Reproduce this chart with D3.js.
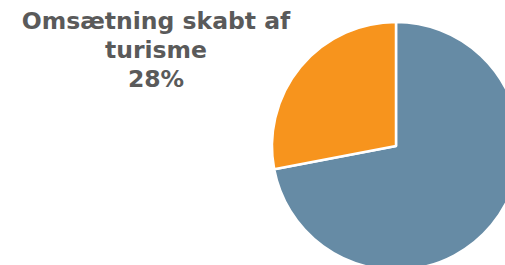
<!DOCTYPE html>
<html>
<head>
<meta charset="utf-8">
<script src="https://cdn.jsdelivr.net/npm/d3@7"></script>
<style>
  body { margin: 0; background: #fff; }
  svg { display: block; }
</style>
</head>
<body>
<svg id="chart" width="505" height="265"></svg>
<script>
const categories = ["Øvrig omsætning", "Omsætning skabt af turisme"];
const values = [72, 28];
const colors = ["#668ba5", "#f7941d"];
const labelLines = ["Omsætning skabt af", "turisme", "28%"];

const svg = d3.select("#chart");
const cx = 396, cy = 146, radius = 124;

const pie = d3.pie().sort(null).value(d => d);
const arc = d3.arc().innerRadius(0).outerRadius(radius);
const color = d3.scaleOrdinal().domain(categories).range(colors);

svg.append("g")
    .attr("transform", "translate(" + cx + "," + cy + ")")
    .selectAll("path")
    .data(pie(values))
    .join("path")
    .attr("d", arc)
    .attr("fill", (d, i) => color(categories[i]))
    .attr("stroke", "#fff")
    .attr("stroke-width", 2.5)
    .attr("stroke-linejoin", "round");

svg.append("text")
    .attr("x", 156)
    .attr("y", 29)
    .attr("text-anchor", "middle")
    .attr("font-family", "DejaVu Sans")
    .attr("font-weight", "bold")
    .attr("font-size", 23.5)
    .attr("fill", "#5a5a5a")
    .selectAll("tspan")
    .data(labelLines)
    .join("tspan")
    .attr("x", 156)
    .attr("dy", (d, i) => i === 0 ? 0 : 29)
    .text(d => d);
</script>
</body>
</html>
